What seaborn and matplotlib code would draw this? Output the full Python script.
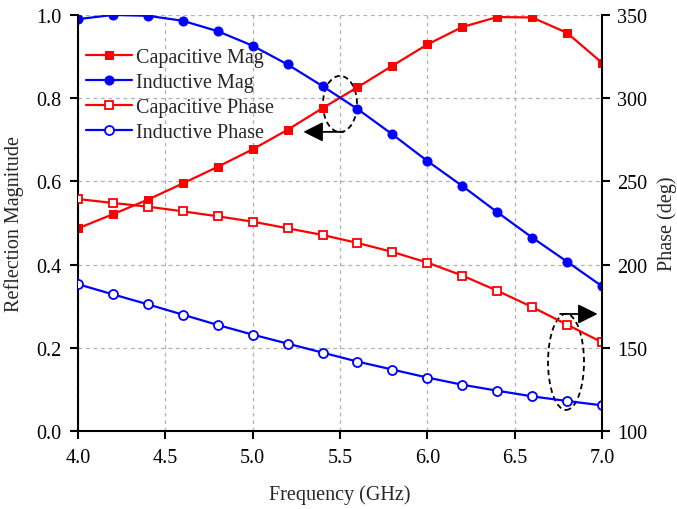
import numpy as np
import pandas as pd
import matplotlib
matplotlib.use("Agg")
import matplotlib.pyplot as plt
from matplotlib.patches import Ellipse
from matplotlib.ticker import FormatStrFormatter
import seaborn as sns

freq = [4.0, 4.2, 4.4, 4.6, 4.8, 5.0, 5.2, 5.4, 5.6, 5.8, 6.0, 6.2, 6.4, 6.6, 6.8, 7.0]
cap_mag = [0.487, 0.521, 0.556, 0.595, 0.635, 0.677, 0.724, 0.776, 0.826, 0.878, 0.929,
           0.971, 0.995, 0.994, 0.957, 0.885]
ind_mag = [0.990, 1.000, 0.998, 0.986, 0.961, 0.926, 0.881, 0.829, 0.774, 0.713, 0.649,
           0.589, 0.526, 0.465, 0.407, 0.348]
cap_phase = [239.4, 237.0, 234.8, 232.0, 229.0, 225.8, 221.8, 217.8, 213.0, 207.6, 201.2,
             193.4, 184.3, 174.5, 163.9, 153.3]
ind_phase = [188.2, 182.1, 176.1, 169.9, 163.7, 157.9, 152.5, 147.1, 141.7, 136.9, 132.1,
             127.8, 124.2, 120.8, 118.0, 115.4]

mag = pd.DataFrame({"freq": freq, "Capacitive Mag": cap_mag, "Inductive Mag": ind_mag})
phase = pd.DataFrame({"freq": freq, "Capacitive Phase": cap_phase, "Inductive Phase": ind_phase})

sns.set_style("ticks")
plt.rcParams["font.family"] = ["Liberation Serif", "DejaVu Serif"]

RED = "#ff0000"
BLUE = "#0000ff"
FS = 14.5

fig = plt.figure(figsize=(6.77, 5.10), dpi=100)
ax = fig.add_axes([0.1152, 0.153, 0.7740, 0.8157])
ax2 = ax.twinx()

lw = 1.6
ms = 6
sns.lineplot(data=mag, x="freq", y="Capacitive Mag", ax=ax, color=RED, lw=lw,
             marker="s", markersize=ms, markeredgecolor=RED, label="Capacitive Mag", legend=False)
sns.lineplot(data=mag, x="freq", y="Inductive Mag", ax=ax, color=BLUE, lw=lw,
             marker="o", markersize=ms + 0.5, markeredgecolor=BLUE, label="Inductive Mag", legend=False)
sns.lineplot(data=phase, x="freq", y="Capacitive Phase", ax=ax2, color=RED, lw=lw,
             marker="s", markersize=ms, markerfacecolor="white", markeredgecolor=RED,
             markeredgewidth=1.3, label="Capacitive Phase", legend=False)
sns.lineplot(data=phase, x="freq", y="Inductive Phase", ax=ax2, color=BLUE, lw=lw,
             marker="o", markersize=ms + 0.5, markerfacecolor="white", markeredgecolor=BLUE,
             markeredgewidth=1.3, label="Inductive Phase", legend=False)

ax.set_xlim(4.0, 7.0)
ax.set_ylim(0.0, 1.0)
ax2.set_ylim(100, 350)
ax.set_xticks(np.arange(4.0, 7.01, 0.5))
ax.set_yticks(np.arange(0.0, 1.01, 0.2))
ax2.set_yticks(np.arange(100, 351, 50))
ax.xaxis.set_major_formatter(FormatStrFormatter("%.1f"))
ax.yaxis.set_major_formatter(FormatStrFormatter("%.1f"))

ax.grid(True, color="#b0b0b0", linestyle=(0, (3, 3)), linewidth=0.9)
ax.set_axisbelow(True)

for a in (ax, ax2):
    a.spines["top"].set_visible(False)
    for s in ("left", "right", "bottom"):
        a.spines[s].set_linewidth(1.5)
        a.spines[s].set_color("black")
    a.tick_params(direction="out", length=6, width=1.5, labelsize=FS, colors="black")
ax.spines["right"].set_visible(False)
ax2.spines["left"].set_visible(False)
ax2.spines["bottom"].set_visible(False)
ax.tick_params(axis="x", pad=6)
ax.tick_params(axis="y", pad=6)
ax2.tick_params(axis="y", pad=5)

ax.set_xlabel("Frequency (GHz)", fontsize=FS, labelpad=13)
ax.set_ylabel("Reflection Magnitude", fontsize=FS, labelpad=9)
ax2.set_ylabel("Phase (deg)", fontsize=FS, labelpad=7)

h1, l1 = ax.get_legend_handles_labels()
h2, l2 = ax2.get_legend_handles_labels()
leg = ax2.legend(h1 + h2, l1 + l2, loc="upper left", bbox_to_anchor=(0.015, 0.92),
                 frameon=False, fontsize=FS, handlelength=2.28, handletextpad=0.2,
                 labelspacing=0.28, borderpad=0, borderaxespad=0)

# dashed ellipses with arrows pointing to the relevant axis
arrow = dict(arrowstyle="-|>,head_length=1.2,head_width=0.6",
             color="black", lw=1.3, shrinkA=0, shrinkB=0)

e1 = Ellipse((5.5, 0.786), 0.195, 0.135, transform=ax.transData, fill=False,
             edgecolor="black", linestyle=(0, (3, 2)), linewidth=1.3)
ax.add_patch(e1)
ax.annotate("", xy=(5.29, 0.719), xytext=(5.52, 0.719), xycoords="data", arrowprops=arrow)

e2 = Ellipse((6.794, 141.5), 0.206, 57.7, transform=ax2.transData, fill=False,
             edgecolor="black", linestyle=(0, (3, 2)), linewidth=1.3)
ax2.add_patch(e2)
ax2.annotate("", xy=(6.975, 170.3), xytext=(6.76, 170.3), xycoords="data", arrowprops=arrow)

fig.savefig("out.png", dpi=100)
